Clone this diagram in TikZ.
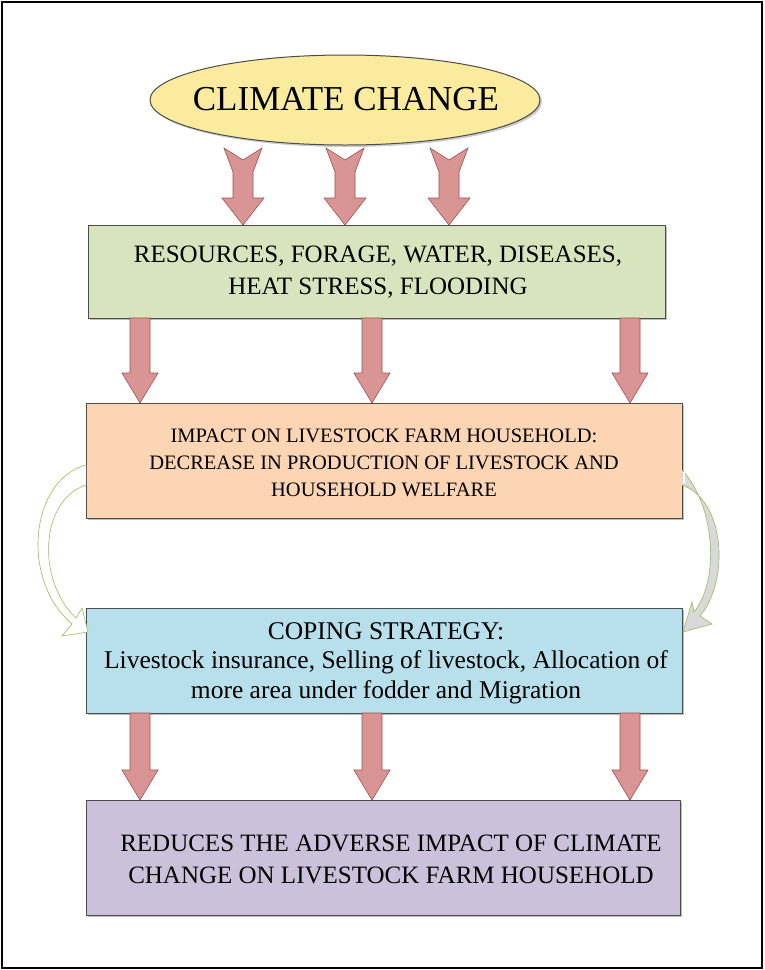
\documentclass[tikz,border=0pt]{standalone}
\usepackage{fontspec}
\setmainfont{Liberation Serif}
\usetikzlibrary{shadows,shapes.geometric}
\definecolor{arrowfill}{HTML}{D99594}
\definecolor{arrowline}{HTML}{A0504E}
\definecolor{greenbox}{HTML}{D7E4BD}
\definecolor{peachbox}{HTML}{FCD5B5}
\definecolor{bluebox}{HTML}{B7E0EC}
\definecolor{lavbox}{HTML}{CCC1DA}
\definecolor{ellfill}{HTML}{FAEB9E}
\definecolor{curveline}{HTML}{9BBB59}
\tikzset{
  boxstyle/.style={draw=black!70, line width=1pt, drop shadow={shadow xshift=2pt,shadow yshift=-2pt,fill=black!50}, align=center, inner sep=0pt},
  fatarr/.style={fill=arrowfill, draw=arrowline, line width=0.6pt},
  curvearr/.style={draw=curveline, line width=0.6pt, fill=white},
  txt/.style={align=center, inner sep=0pt},
}
\newcommand\downarr[3]{% x, ytop, ybottom
  \draw[fatarr] (#1-10,#2) -- (#1+10,#2) -- (#1+10,#3-30) -- (#1+18,#3-30) -- (#1,#3) -- (#1-18,#3-30) -- (#1-10,#3-30) -- cycle;}
\newcommand\notcharr[1]{%
  \draw[fatarr] (#1-19,148) -- (#1,160) -- (#1+19,148) -- (#1+10,172) -- (#1+10,198) -- (#1+21,198) -- (#1,225) -- (#1-21,198) -- (#1-10,198) -- (#1-10,172) -- cycle;}
\begin{document}
\begin{tikzpicture}[x=1pt,y=-1pt]
\useasboundingbox (0,0) rectangle (764,970);
\fill[white] (0,0) rectangle (764,970);
\draw[line width=1.5pt] (2,2) rectangle (762,968);

\node[ellipse, draw=black!70, line width=1pt, fill=ellfill, minimum width=390, minimum height=90, inner sep=0pt, drop shadow={shadow xshift=2pt,shadow yshift=-2pt,fill=black!40}] (cc) at (345,100) {};
\node[txt, font=\fontsize{35}{40}\selectfont] (cct) at (346,99) {CLIMATE CHANGE};

\notcharr{243}\notcharr{345}\notcharr{449}

\node[boxstyle, fill=greenbox, minimum width=577, minimum height=93] (b1) at (376.5,271.5) {};
\node[txt, font=\fontsize{25}{32}\selectfont] (t1) at (378,272) {RESOURCES, FORAGE, WATER, DISEASES,\\ HEAT STRESS, FLOODING};

\downarr{140}{318}{403}\downarr{372}{318}{403}\downarr{630}{318}{403}

\node[boxstyle, fill=peachbox, minimum width=596, minimum height=115] (b2) at (384,460.5) {};
\node[txt, font=\fontsize{20.5}{27}\selectfont] (t2) at (384,463) {IMPACT ON LIVESTOCK FARM HOUSEHOLD:\\ DECREASE IN PRODUCTION OF LIVESTOCK AND\\ HOUSEHOLD WELFARE};

\node[boxstyle, fill=bluebox, minimum width=596, minimum height=105] (b3) at (384,660.5) {};
\node[txt, font=\fontsize{25.5}{29.5}\selectfont] (t3) at (386,663) {COPING STRATEGY:\\ Livestock insurance, Selling of livestock, Allocation of\\ more area under fodder and Migration};

\downarr{140}{713}{800}\downarr{372}{713}{800}\downarr{630}{713}{800}

\node[boxstyle, fill=lavbox, minimum width=594, minimum height=115] (b4) at (383,857.5) {};
\node[txt, font=\fontsize{25}{32}\selectfont] (t4) at (391,859) {REDUCES THE ADVERSE IMPACT OF CLIMATE\\ CHANGE ON LIVESTOCK FARM HOUSEHOLD};

% left curved arrow
\draw[curvearr] (86,465) .. controls (30,480) and (20,580) .. (72,624) -- (62,636) -- (88,632) -- (82,608) -- (76,618) .. controls (36,580) and (40,500) .. (86,485);
% right curved arrow
\draw[curvearr, fill=black!15] (682,485) .. controls (725,500) and (730,580) .. (700,616) -- (712,624) -- (683,632) -- (692,602) -- (694,612) .. controls (720,580) and (715,505) .. (682,470);
\fill[white] (683,472) rectangle (685,483);
\end{tikzpicture}
\end{document}
